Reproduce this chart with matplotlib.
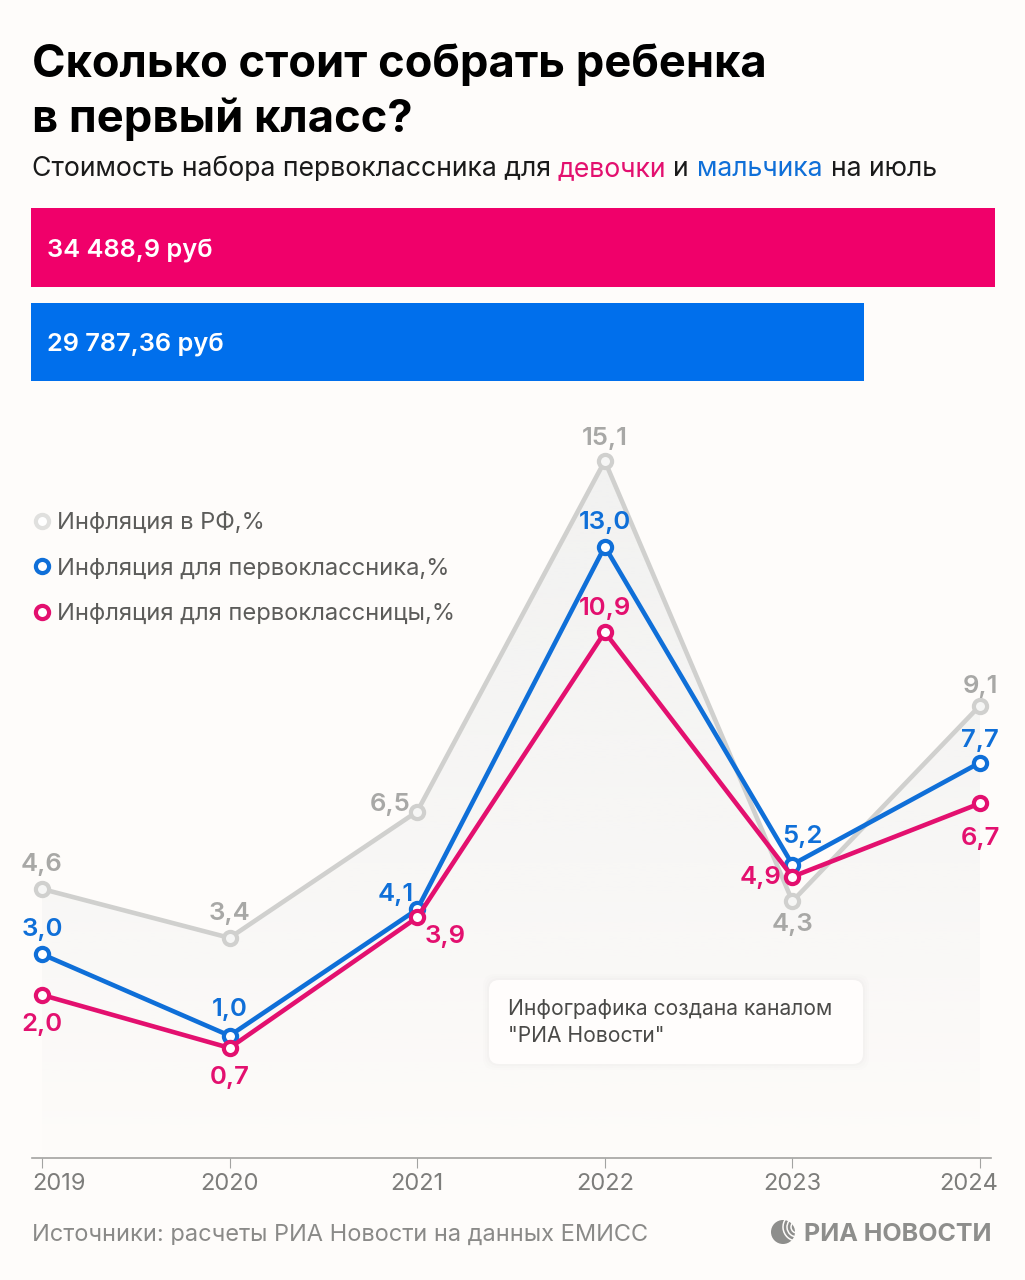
import numpy as np
import matplotlib
matplotlib.use("Agg")
import matplotlib.pyplot as pl
from matplotlib.lines import Line2D
from matplotlib.patches import Circle, FancyBboxPatch, Polygon, Arc
from matplotlib.transforms import ScaledTranslation

pl.rcParams["font.family"] = ["Inter", "Roboto", "DejaVu Sans"]

W, H = 1025, 1280
BG = "#fefcfa"
PINK = "#e3106f"
BLUE = "#0f6fd8"
GRAY = "#d0d0ce"
GRAY_TXT = "#a8a8a6"

# Data.
costs = [34488.9, 29787.36]
cost_labels = ["34 488,9 руб", "29 787,36 руб"]
years = [2019, 2020, 2021, 2022, 2023, 2024]
infl_rf = [4.6, 3.4, 6.5, 15.1, 4.3, 9.1]
infl_boy = [3.0, 1.0, 4.1, 13.0, 5.2, 7.7]
infl_girl = [2.0, 0.7, 3.9, 10.9, 4.9, 6.7]

# Label offsets from their points, in pixels.
off_rf = [(0, 24), (0, 24), (-27, 7), (0, 22), (0, -23), (0, 19)]
off_boy = [(0, 25), (0, 26), (-22, 15), (0, 24), (10, 28), (0, 22)]
off_girl = [(0, -30), (0, -30), (28, -19), (0, 24), (-32, -1), (0, -35)]


def axes_px(fig, left, top, right, bottom):
    return fig.add_axes([left / W, 1 - bottom / H, (right - left) / W,
                         (bottom - top) / H])


fig = pl.figure(figsize=(W / 100, H / 100), dpi=100, facecolor=BG)

# Cost bars.
row = 94.5
ax_bar = axes_px(fig, 31, 208, 995, 381)
ax_bar.axis("off")
ax_bar.barh([0, 1], costs, height=79 / row, color=["#f0006a", "#006fec"])
ax_bar.set_xlim(0, costs[0])
ax_bar.set_ylim(1 + 39 / row, -39.5 / row)
for i, lab in enumerate(cost_labels):
    ax_bar.annotate(lab, (0, i), xytext=(16, -3), textcoords="offset pixels",
                    color="white", fontsize=18.3, fontweight="semibold",
                    va="center")

# Line chart.
px_x = 187.6
px_y = 40.8
ax = axes_px(fig, 32, 400, 991.5, 1158)
ax.set_facecolor("none")

grad = np.ones((256, 1, 4))
grad[..., :3] = matplotlib.colors.to_rgb("#f2f2f1")
grad[:, 0, 3] = np.linspace(1, 0, 256) ** 0.8
im = ax.imshow(grad, extent=(2019, 2024, -2, 15.1), aspect="auto", zorder=1)
ax.set_xlim(2019 - 10 / px_x, 2024 + 11.5 / px_x)
ax.set_ylim(-2, 15.1 + 61 / px_y)
poly = Polygon(list(zip(years, infl_rf)) + [(2024, -2), (2019, -2)],
               closed=True, transform=ax.transData)
im.set_clip_path(poly)

series = [(infl_rf, GRAY, GRAY_TXT, off_rf),
          (infl_boy, BLUE, BLUE, off_boy),
          (infl_girl, PINK, PINK, off_girl)]
for k, (vals, col, tcol, offs) in enumerate(series):
    ax.plot(years, vals, color=col, lw=3.3, marker="o", ms=9.5, mew=3.0,
            mfc="white" if k else "#f6f6f5", mec=col, zorder=3 + k,
            solid_joinstyle="miter", clip_on=False)
    for x, y, o in zip(years, vals, offs):
        ax.annotate(("%.1f" % y).replace(".", ","), (x, y), xytext=o,
                    textcoords="offset pixels", ha="center", va="center",
                    color=tcol, fontsize=18.5, fontweight="semibold", zorder=8)

for s in ["top", "left", "right"]:
    ax.spines[s].set_visible(False)
ax.spines["bottom"].set_color("#a3a3a1")
ax.spines["bottom"].set_linewidth(1.2)
ax.set_yticks([])
ax.set_xticks(years)
ax.tick_params(axis="x", length=7, width=0.8, color="#a3a3a1", pad=4,
               labelsize=17, labelcolor="#7d7d7b")
# the outer year labels are pulled inside the plot edges
tick_labels = ax.get_xticklabels()
tick_labels[0].set_transform(tick_labels[0].get_transform()
                             + ScaledTranslation(0.17, 0, fig.dpi_scale_trans))
tick_labels[-1].set_transform(tick_labels[-1].get_transform()
                              + ScaledTranslation(-0.11, 0, fig.dpi_scale_trans))

handles = [Line2D([], [], ls="none", marker="o", ms=9.5, mew=3.0, mfc="white",
                  mec=c) for c in ["#e0e0de", BLUE, PINK]]
leg = fig.legend(handles,
                 ["Инфляция в РФ,%", "Инфляция для первоклассника,%",
                  "Инфляция для первоклассницы,%"],
                 loc="upper left", bbox_to_anchor=(30 / W, 1 - 512 / H),
                 frameon=False, fontsize=17.05, labelcolor="#5c5c5a",
                 handlelength=1.0, handletextpad=0.14, labelspacing=0.99,
                 borderpad=0, borderaxespad=0)

# Overlay in pixel coordinates for everything that is not data.
over = fig.add_axes([0, 0, 1, 1], zorder=10)
over.set_xlim(0, W)
over.set_ylim(H, 0)
over.axis("off")

over.text(32, 77, "Сколько стоит собрать ребенка", fontsize=32.6,
          fontweight="bold", color="black", va="baseline")
over.text(32, 132, "в первый класс?", fontsize=32.6, fontweight="bold",
          color="black", va="baseline")

sub = [(32, "Стоимость набора первоклассника для", "#1a1a1a"),
       (558, "девочки", PINK),
       (673, "и", "#1a1a1a"),
       (697, "мальчика", BLUE),
       (831, "на июль", "#1a1a1a")]
for x, s, c in sub:
    over.text(x, 176, s, fontsize=19.2, color=c, va="baseline")

for off, a in [(6, 0.006), (4, 0.008), (2, 0.01)]:
    over.add_patch(FancyBboxPatch((489 - off, 980 - off), 374 + 2 * off,
                                  84 + 2 * off,
                                  boxstyle="round,pad=0,rounding_size=12",
                                  fc="black", ec="none", alpha=a))
over.add_patch(FancyBboxPatch((489, 980), 374, 84,
                              boxstyle="round,pad=0,rounding_size=10",
                              fc="#fffdfc", ec="none"))
over.text(508, 1015, "Инфографика создана каналом", fontsize=15.15,
          color="#4a4a48", va="baseline")
over.text(508, 1042, "\"РИА Новости\"", fontsize=15.15, color="#4a4a48",
          va="baseline")

over.text(32, 1241, "Источники: расчеты РИА Новости на данных ЕМИСС",
          fontsize=16.95, color="#8a8a88", va="baseline")

# logo
over.add_patch(Circle((783, 1232), 12, fc="#8e8e8c", ec="none"))
for r in [6, 10, 14]:
    over.add_patch(Arc((797, 1227), 2 * r, 2 * r, theta1=90, theta2=260,
                       color=BG, lw=1.1))
over.text(804, 1241, "РИА НОВОСТИ", fontsize=18, fontweight="bold",
          color="#8e8e8c", va="baseline")

fig.savefig("out.png", dpi=100, facecolor=BG)
